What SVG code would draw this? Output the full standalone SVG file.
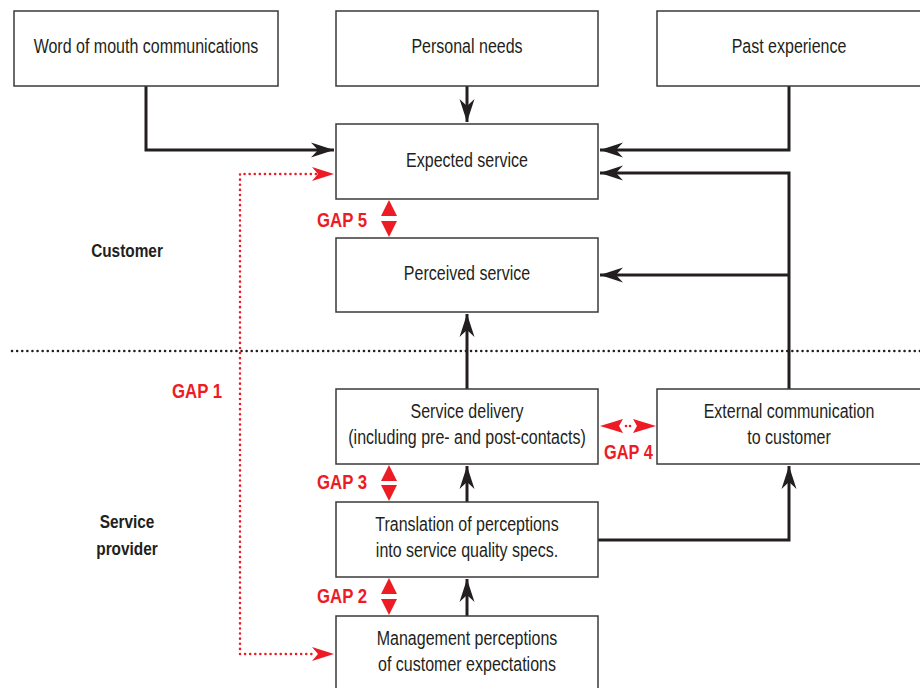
<svg xmlns="http://www.w3.org/2000/svg" width="920" height="688" viewBox="0 0 920 688">
<style>
.box{fill:#fff;stroke:#3a3a3a;stroke-width:1.5}
.t{font-family:"Liberation Sans",Arial,sans-serif;font-size:20px;fill:#231f20;text-anchor:middle}
.b{font-family:"Liberation Sans",Arial,sans-serif;font-size:19px;font-weight:bold;fill:#231f20;text-anchor:middle}
.g{font-family:"Liberation Sans",Arial,sans-serif;font-size:21px;font-weight:bold;fill:#ed1c24}
.c{fill:none;stroke:#231f20;stroke-width:3}
.r{fill:none;stroke:#ed1c24;stroke-width:2.5;stroke-dasharray:0.1 5;stroke-linecap:round}
.tri{fill:#ed1c24}
</style>
<defs>
<marker id="ab" markerUnits="userSpaceOnUse" markerWidth="26" markerHeight="18" refX="24" refY="8" orient="auto" viewBox="0 0 26 16">
<path d="M24,8 L1,0.5 L8,8 L1,15.5 Z" fill="#231f20"/>
</marker>
<marker id="ar" markerUnits="userSpaceOnUse" markerWidth="26" markerHeight="18" refX="24" refY="8" orient="auto" viewBox="0 0 26 16">
<path d="M24,8 L2,1 L8,8 L2,15 Z" fill="#ed1c24"/>
</marker>
</defs>
<line x1="12" y1="351" x2="920" y2="351" stroke="#231f20" stroke-width="2.5" stroke-dasharray="0.1 5" stroke-linecap="round"/>
<g id="connectors">
<polyline class="c" points="146,86 146,150 334,150" marker-end="url(#ab)"/>
<polyline class="c" points="467,86 467,122" marker-end="url(#ab)"/>
<polyline class="c" points="789,86 789,150 600,150" marker-end="url(#ab)"/>
<polyline class="c" points="789,389 789,173 600,173" marker-end="url(#ab)"/>
<polyline class="c" points="789,275 600,275" marker-end="url(#ab)"/>
<polyline class="c" points="467,389 467,314" marker-end="url(#ab)"/>
<polyline class="c" points="467,502 467,466" marker-end="url(#ab)"/>
<polyline class="c" points="467,616 467,579" marker-end="url(#ab)"/>
<polyline class="c" points="598,540 789,540 789,466" marker-end="url(#ab)"/>
<polyline class="r" points="316,174 240,174 240,654 316,654"/>
<line x1="300" y1="174" x2="334" y2="174" stroke="none" marker-end="url(#ar)"/>
<line x1="300" y1="654" x2="334" y2="654" stroke="none" marker-end="url(#ar)"/>
<path class="tri" d="M389,200 L397,216 L381,216 Z M389,237 L397,221 L381,221 Z"/>
<path class="tri" d="M389,465 L397,481 L381,481 Z M389,501 L397,485 L381,485 Z"/>
<path class="tri" d="M389,578 L397,594 L381,594 Z M389,615 L397,599 L381,599 Z"/>
<path class="tri" d="M600,426 L623,419 L619,426 L623,433 Z M656,426 L633,419 L637,426 L633,433 Z"/>
<circle cx="626" cy="426" r="1.3" fill="#ed1c24"/>
<circle cx="630" cy="426" r="1.3" fill="#ed1c24"/>
</g>
<g id="n-wom"><rect class="box" x="14" y="11" width="264" height="75"/><text class="t" transform="translate(146,0) scale(0.8,1)" x="0" y="53">Word of mouth communications</text></g>
<g id="n-needs"><rect class="box" x="336" y="11" width="262" height="75"/><text class="t" transform="translate(467,0) scale(0.8,1)" x="0" y="53">Personal needs</text></g>
<g id="n-past"><rect class="box" x="657" y="11" width="266" height="75"/><text class="t" transform="translate(789,0) scale(0.8,1)" x="0" y="53">Past experience</text></g>
<g id="n-expected"><rect class="box" x="336" y="124" width="262" height="75"/><text class="t" transform="translate(467,0) scale(0.8,1)" x="0" y="167">Expected service</text></g>
<g id="n-perceived"><rect class="box" x="336" y="238" width="262" height="74"/><text class="t" transform="translate(467,0) scale(0.8,1)" x="0" y="280">Perceived service</text></g>
<g id="n-delivery"><rect class="box" x="336" y="389" width="262" height="75"/><text class="t" transform="translate(467,0) scale(0.8,1)" x="0" y="418">Service delivery</text><text class="t" transform="translate(467,0) scale(0.8,1)" x="0" y="444">(including pre- and post-contacts)</text></g>
<g id="n-external"><rect class="box" x="657" y="389" width="266" height="75"/><text class="t" transform="translate(789,0) scale(0.8,1)" x="0" y="418">External communication</text><text class="t" transform="translate(789,0) scale(0.8,1)" x="0" y="444">to customer</text></g>
<g id="n-translation"><rect class="box" x="336" y="502" width="262" height="75"/><text class="t" transform="translate(467,0) scale(0.8,1)" x="0" y="531">Translation of perceptions</text><text class="t" transform="translate(467,0) scale(0.8,1)" x="0" y="557">into service quality specs.</text></g>
<g id="n-management"><rect class="box" x="336" y="616" width="262" height="80"/><text class="t" transform="translate(467,0) scale(0.8,1)" x="0" y="645">Management perceptions</text><text class="t" transform="translate(467,0) scale(0.8,1)" x="0" y="671">of customer expectations</text></g>
<g id="labels">
<text class="b" transform="translate(127,0) scale(0.81,1)" x="0" y="257">Customer</text>
<text class="b" transform="translate(127,0) scale(0.81,1)" x="0" y="528">Service</text>
<text class="b" transform="translate(127,0) scale(0.81,1)" x="0" y="555">provider</text>
<text class="g" transform="translate(317,0) scale(0.8,1)" x="0" y="227">GAP 5</text>
<text class="g" transform="translate(172,0) scale(0.8,1)" x="0" y="398">GAP 1</text>
<text class="g" transform="translate(317,0) scale(0.8,1)" x="0" y="489">GAP 3</text>
<text class="g" transform="translate(604,0) scale(0.78,1)" x="0" y="459">GAP 4</text>
<text class="g" transform="translate(317,0) scale(0.8,1)" x="0" y="603">GAP 2</text>
</g>
</svg>
